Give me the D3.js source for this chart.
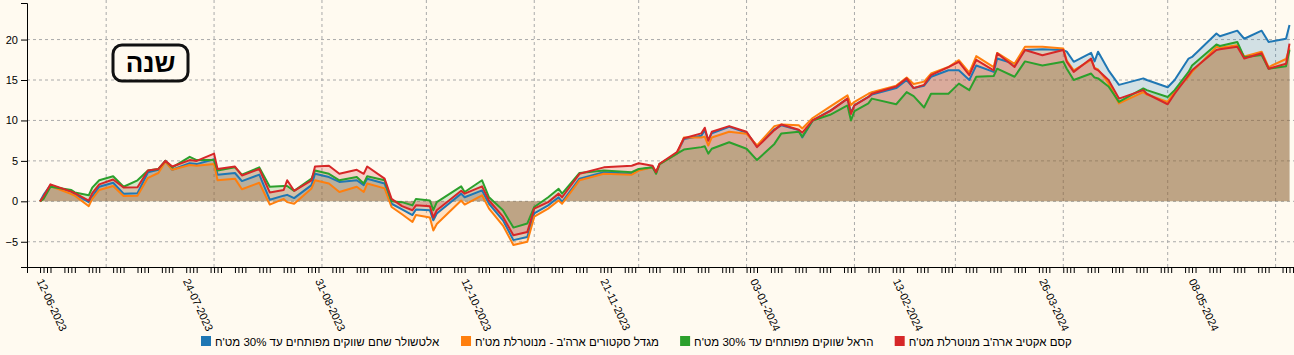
<!DOCTYPE html>
<meta charset="utf-8">
<style>
  body { margin: 0; background: #fffaf0; }
  svg { display: block; font-family: Arial, "Liberation Sans", sans-serif; }
  .grid line { stroke: #aaa; stroke-width: 1px; stroke-dasharray: 3,3; }
  .axis text { font-size: 11px; fill: #000; }
  .axis path, .axis line { stroke: #000; }
  .legend text { font-size: 11.5px; fill: #000; }
  .badge text { font-size: 26px; font-weight: bold; text-anchor: middle; }
</style>
<script src="https://d3js.org/d3.v7.min.js"></script>
<div id="chart"></div>
<script>
// data (yield %)
var dates = ["2023-06-12","2023-06-13","2023-06-15","2023-06-21","2023-06-22","2023-06-26","2023-06-27","2023-06-29",
  "2023-07-03","2023-07-06","2023-07-10","2023-07-13","2023-07-16","2023-07-18","2023-07-20","2023-07-25","2023-07-27",
  "2023-08-01","2023-08-02","2023-08-07","2023-08-09","2023-08-14","2023-08-17","2023-08-21","2023-08-22","2023-08-24",
  "2023-08-29","2023-08-30","2023-09-03","2023-09-06","2023-09-11","2023-09-13","2023-09-14","2023-09-19","2023-09-21",
  "2023-09-24","2023-09-27","2023-09-28","2023-10-02","2023-10-03","2023-10-04","2023-10-11","2023-10-12","2023-10-17",
  "2023-10-19","2023-10-23","2023-10-26","2023-10-30","2023-11-01","2023-11-05","2023-11-08","2023-11-09","2023-11-14",
  "2023-11-21","2023-11-29","2023-12-01","2023-12-05","2023-12-06","2023-12-07","2023-12-12","2023-12-14","2023-12-19",
  "2023-12-20","2023-12-21","2023-12-22","2023-12-27","2024-01-01","2024-01-04","2024-01-09","2024-01-11","2024-01-16",
  "2024-01-17","2024-01-20","2024-01-25","2024-01-30","2024-01-31","2024-02-01","2024-02-05","2024-02-06","2024-02-13",
  "2024-02-16","2024-02-18","2024-02-21","2024-02-23","2024-02-28","2024-03-02","2024-03-05","2024-03-07","2024-03-12",
  "2024-03-13","2024-03-18","2024-03-21","2024-03-26","2024-04-01","2024-04-02","2024-04-04","2024-04-09","2024-04-10",
  "2024-04-11","2024-04-14","2024-04-17","2024-04-24","2024-04-25","2024-05-01","2024-05-03","2024-05-07","2024-05-08",
  "2024-05-15","2024-05-16","2024-05-21","2024-05-23","2024-05-28","2024-05-30","2024-06-04","2024-06-05"];

var altshuler = [0,0.8,2.0,1.2,0.9,-0.1,0.6,1.8,2.3,0.95,1.0,3.6,3.9,5.0,3.9,4.7,4.6,5.2,3.3,3.5,2.5,3.3,0.2,0.7,0.8,0.4,
  2.0,3.4,3.0,2.4,2.6,2.0,2.8,2.2,-0.3,-1.0,-1.7,-1.0,-1.1,-2.35,-1.5,0.95,0.5,1.35,-0.3,-2.35,-4.8,-4.4,-1.5,-0.5,0.5,
  -0.1,2.8,3.6,3.4,3.9,4.2,3.6,4.6,5.9,7.7,8.1,8.8,7.6,8.4,9.2,8.5,6.8,8.9,9.4,8.8,7.9,10.0,11.2,12.7,11.0,11.9,12.9,
  13.2,14.0,15.0,14.0,14.3,15.4,16.2,16.2,15.0,16.8,16.0,17.65,17.0,18.7,18.8,18.7,18.5,17.25,18.35,17.3,18.5,16.2,14.4,
  15.2,15.0,14.1,15.0,17.65,17.85,20.75,20.4,21.1,20.1,21.1,19.7,20.1,21.8];

var migdal = [0,0.5,1.9,0.9,0.7,-0.6,0.3,1.4,1.9,0.65,0.7,2.9,3.5,4.9,3.9,4.5,4.4,4.6,2.6,2.8,1.5,2.3,-0.4,0.3,-0.1,-0.3,
  1.6,2.6,2.2,1.15,1.8,1.15,2.2,1.6,-0.7,-1.6,-2.55,-1.7,-2.0,-3.6,-2.8,0.1,-0.4,0.75,-0.9,-3.0,-5.4,-5.0,-1.9,-0.9,0.1,
  -0.3,2.6,3.4,3.3,3.8,4.2,3.6,4.6,5.9,7.9,7.9,8.0,6.9,7.9,8.6,8.35,6.9,9.3,9.5,9.4,9.0,10.3,11.7,13.1,11.9,12.3,13.3,
  13.5,14.3,15.3,14.5,14.8,15.8,16.6,17.45,15.9,17.95,16.6,18.35,17.0,19.1,19.1,18.9,17.4,16.2,17.5,16.5,16.3,14.6,12.1,
  13.5,13.2,12.3,13.6,15.4,16.0,19.1,19.0,19.3,17.9,18.5,16.6,17.6,18.9];

var harel = [0,0.3,1.8,1.4,1.1,0.75,1.7,2.6,3.1,1.8,2.6,3.8,4.0,5.0,4.2,5.5,5.1,5.1,3.8,4.2,3.3,4.2,1.8,1.9,1.9,1.3,
  2.8,3.8,3.4,2.6,3.0,2.2,3.1,2.6,0.0,-0.1,-0.5,0.3,0.1,-1.1,-0.1,1.85,1.15,2.6,0.5,-1.1,-3.25,-2.75,-0.7,0.5,1.55,
  0.95,3.5,3.8,3.6,4.0,4.2,3.4,4.6,5.9,6.4,6.7,6.8,5.9,6.5,7.3,6.5,5.1,7.1,8.4,8.6,8.0,10.0,10.7,11.85,10.0,11.15,12.1,
  12.7,12.0,13.5,13.0,11.6,13.3,13.3,14.55,13.75,15.4,15.5,16.4,15.4,17.3,16.8,17.25,16.4,15.0,15.8,15.3,15.2,14.2,12.3,
  13.95,13.75,12.9,13.75,16.0,16.8,19.4,19.2,19.7,17.8,18.1,16.4,16.7,18.7];

var kesem = [0,0.6,2.1,1.2,1.0,0.1,1.0,2.1,2.7,1.7,1.75,3.8,4.0,5.0,4.3,5.1,5.0,5.9,4.0,4.3,3.2,4.0,1.1,1.4,2.6,1.3,
  2.6,4.3,4.4,3.4,3.9,3.4,4.3,2.8,0.3,-0.6,-1.1,-0.5,-0.6,-2.0,-1.1,1.3,0.95,1.85,0.1,-1.9,-4.2,-3.8,-0.9,-0.1,0.95,
  0.5,3.4,4.2,4.4,4.7,4.4,3.6,4.65,6.1,7.8,8.4,9.1,7.5,8.6,9.3,8.6,6.7,8.8,9.5,8.85,8.5,10.0,11.15,12.7,10.8,11.85,12.9,
  13.3,14.2,15.2,14.0,14.4,15.6,16.6,17.25,15.6,17.5,16.2,18.3,16.6,18.7,18.05,18.7,17.25,16.0,17.65,16.4,16.2,15.0,12.7,
  13.75,13.3,12.0,13.3,15.6,16.2,18.7,18.8,19.1,17.65,18.3,16.4,17.0,19.5];

var seriesNames = ["אלטשולר שחם שווקים מפותחים עד 30% מט'ח", "מגדל סקטורים ארה'ב - מנוטרלת מט'ח",
  "הראל שווקים מפותחים עד 30% מט'ח", "קסם אקטיב ארה'ב מנוטרלת מט'ח"];
var seriesColors = ["#1f77b4", "#ff7f0e", "#2ca02c", "#d62728"];
var yTicks = [-5, 0, 5, 10, 15, 20];
var labelDates = ["12-06-2023","24-07-2023","31-08-2023","12-10-2023","21-11-2023","03-01-2024","13-02-2024","26-03-2024","08-05-2024"];
var periodLabel = "שנה";

var W = 1294, H = 355;
var mLeft = 27, mRight = 1294, mTop = 3, mBottom = 267;

var parse = d3.timeParse("%Y-%m-%d");
var fmt = d3.timeFormat("%d-%m-%Y");
var days = dates.map(parse);
var series = [altshuler, migdal, harel, kesem].map(function(vals, i) {
  return { name: seriesNames[i], color: seriesColors[i],
           values: vals.map(function(v, j) { return { date: days[j], value: v }; }) };
});

var svg = d3.select("#chart").append("svg")
    .attr("width", W).attr("height", H);

var x = d3.scaleTime()
    .domain([new Date(2023, 5, 8, 6), new Date(2024, 5, 6, 7)])
    .range([mLeft, mRight]);

var ext = d3.extent([].concat(altshuler, migdal, harel, kesem));
var pad = (ext[1] - ext[0]) * 0.1;
var y = d3.scaleLinear()
    .domain([ext[0] - pad, ext[1] + pad])
    .range([mBottom, mTop]);

// grid
var grid = svg.append("g").attr("class", "grid");
grid.selectAll("line.h").data(yTicks).join("line").attr("class", "h")
    .attr("x1", mLeft).attr("x2", mRight)
    .attr("y1", function(d) { return y(d); }).attr("y2", function(d) { return y(d); });
grid.selectAll("line.v").data(d3.timeMonth.range(new Date(2023, 6, 1), new Date(2024, 5, 2))).join("line").attr("class", "v")
    .attr("x1", function(d) { return x(d); }).attr("x2", function(d) { return x(d); })
    .attr("y1", 0).attr("y2", mBottom);

// areas + lines
var area = d3.area()
    .x(function(d) { return x(d.date); })
    .y0(y(0))
    .y1(function(d) { return y(d.value); });
var line = d3.line()
    .x(function(d) { return x(d.date); })
    .y(function(d) { return y(d.value); });

svg.append("g").selectAll("path").data(series).join("path")
    .attr("d", function(d) { return area(d.values); })
    .attr("fill", function(d) { return d.color; })
    .attr("fill-opacity", 0.2);

svg.append("g").selectAll("path").data(series).join("path")
    .attr("d", function(d) { return line(d.values); })
    .attr("fill", "none")
    .attr("stroke", function(d) { return d.color; })
    .attr("stroke-width", 2)
    .attr("stroke-linejoin", "round");

// axes
var tickDates = d3.timeDay.range(new Date(2023, 5, 12), new Date(2024, 5, 7))
    .filter(function(d) { return d.getDay() >= 1 && d.getDay() <= 4; });
var labelSet = new Set(labelDates);

var xAxis = svg.append("g").attr("class", "axis")
    .attr("transform", "translate(0," + mBottom + ")")
    .call(d3.axisBottom(x).tickValues(tickDates).tickSize(6).tickSizeOuter(6)
      .tickFormat(function(d) { return labelSet.has(fmt(d)) ? fmt(d) : ""; }));
xAxis.selectAll("text")
    .attr("x", 0).attr("y", 0).attr("dy", 0)
    .attr("transform", "translate(-4,14) rotate(65)")
    .style("text-anchor", "start");

svg.append("g").attr("class", "axis")
    .attr("transform", "translate(" + mLeft + ",0)")
    .call(d3.axisLeft(y).tickValues(yTicks).tickSize(6).tickSizeOuter(6));

// period badge
var badge = svg.append("g").attr("class", "badge");
badge.append("rect")
    .attr("x", 113).attr("y", 45).attr("width", 75).attr("height", 36)
    .attr("rx", 9).attr("fill", "none").attr("stroke", "#111").attr("stroke-width", 3);
badge.append("text").attr("x", 150.5).attr("y", 72).text(periodLabel);

// legend
var legend = svg.append("g").attr("class", "legend");
var items = legend.selectAll("g").data(series).join("g");
items.append("rect").attr("y", -10).attr("width", 10).attr("height", 10)
    .attr("fill", function(d) { return d.color; });
items.append("text").attr("x", 14).text(function(d) { return d.name; });

var widths = [];
items.each(function() { widths.push(this.getBBox().width); });
var legStart = 201, legEnd = 1072;
var gap = Math.max(12, (legEnd - legStart - d3.sum(widths)) / (widths.length - 1));
var pos = legStart;
items.attr("transform", function(d, i) {
  var t = "translate(" + pos + ",346)";
  pos += widths[i] + gap;
  return t;
});
</script>
